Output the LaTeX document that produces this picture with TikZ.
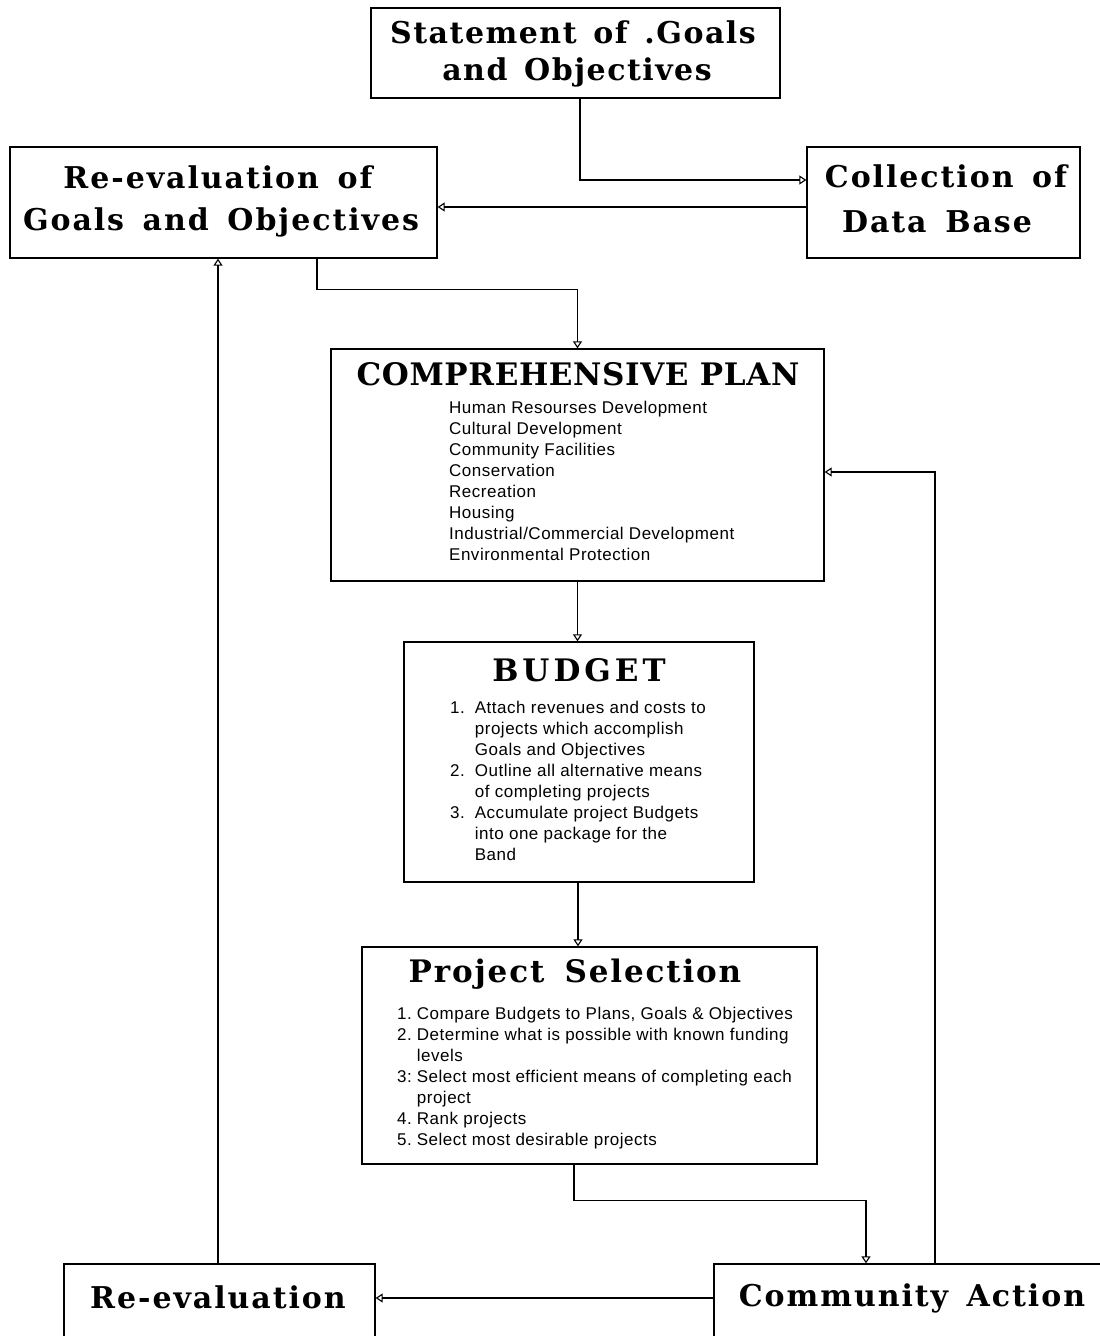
\documentclass[tikz,border=0pt]{standalone}
\usepackage{fontspec}
\setmainfont{DejaVu Serif}
\newfontfamily\listfont[LetterSpace=3]{Liberation Sans}
\newfontfamily\ttlfont[LetterSpace=6.5,WordSpace=1.5]{DejaVu Serif}
\newfontfamily\stmtfont[LetterSpace=5,WordSpace=1.4]{DejaVu Serif}
\newfontfamily\planfont[LetterSpace=2]{DejaVu Serif}
\newfontfamily\budfont[LetterSpace=13]{DejaVu Serif}
\newfontfamily\projfont[LetterSpace=6,WordSpace=1.6]{DejaVu Serif}
\usetikzlibrary{arrows.meta,calc}
\begin{document}
\begin{tikzpicture}[x=1pt,y=-1pt,
  box/.style={draw,line width=1.3pt,inner sep=0pt},
  conn/.style={line width=1.1pt,-{Triangle[open,length=7pt,width=9pt]}},
  ttl/.style={font=\ttlfont\fontsize{30}{32}\selectfont\bfseries,inner sep=0pt},
  stmtttl/.style={font=\stmtfont\fontsize{30}{32}\selectfont\bfseries,inner sep=0pt},
  bigttl/.style={inner sep=0pt},
  lst/.style={font=\listfont\fontsize{17}{21}\selectfont,inner sep=0pt,anchor=north west,align=left},
]
\useasboundingbox (0,0) rectangle (1100,1336);
\fill[white] (0,0) rectangle (1100,1336);
% boxes
\node[box,minimum width=409pt,minimum height=90pt] (stmt) at (575.5,53) {};
\node[box,minimum width=427pt,minimum height=111pt] (regoal) at (223.5,202.5) {};
\node[box,minimum width=273pt,minimum height=111pt] (coll) at (943.5,202.5) {};
\node[box,minimum width=493pt,minimum height=232pt] (plan) at (577.5,465) {};
\node[box,minimum width=350pt,minimum height=240pt] (budget) at (579,762) {};
\node[box,minimum width=455pt,minimum height=217pt] (proj) at (589.5,1055.5) {};
\node[box,minimum width=311pt,minimum height=80pt] (reeval) at (219.5,1304) {};
\node[box,minimum width=392pt,minimum height=80pt] (comm) at (910,1304) {};
% titles
\node[stmtttl] (t1a) at (573,32) {Statement of .Goals};
\node[stmtttl] (t1b) at (577,72) {and Objectives};
\node[ttl] (t2a) at (218,177) {Re-evaluation of};
\node[ttl] (t2b) at (221,222) {Goals and Objectives};
\node[ttl] (t3a) at (946,176) {Collection of};
\node[ttl] (t3b) at (937,222) {Data Base};
\node[bigttl,font=\planfont\fontsize{31}{34}\selectfont\bfseries] (t4) at (578,374) {COMPREHENSIVE PLAN};
\node[bigttl,font=\budfont\fontsize{31}{34}\selectfont\bfseries] (t5) at (579,670) {BUDGET};
\node[bigttl,font=\projfont\fontsize{31}{34}\selectfont\bfseries] (t6) at (575,974) {Project Selection};
\node[ttl] (t7) at (218,1297) {Re-evaluation};
\node[ttl] (t8) at (912,1298) {Community Action};
% lists
\node[lst] (l4) at (449,401) {Human Resourses Development\\Cultural Development\\Community Facilities\\Conservation\\Recreation\\Housing\\Industrial/Commercial Development\\Environmental Protection};
\node[lst] (l5) at (450,699) {\begin{tabular}{@{}r@{\hspace{10pt}}l@{}}
1. & Attach revenues and costs to\\
   & projects which accomplish\\
   & Goals and Objectives\\
2. & Outline all alternative means\\
   & of completing projects\\
3. & Accumulate project Budgets\\
   & into one package for the\\
   & Band
\end{tabular}};
\node[lst] (l6) at (397,1005) {\begin{tabular}{@{}r@{\hspace{5pt}}l@{}}
1. & Compare Budgets to Plans, Goals \& Objectives\\
2. & Determine what is possible with known funding\\
   & levels\\
3: & Select most efficient means of completing each\\
   & project\\
4. & Rank projects\\
5. & Select most desirable projects
\end{tabular}};
% connectors
\draw[conn] ([xshift=4.5pt]stmt.south) |- ([yshift=22.5pt]coll.west);
\draw[conn] ([yshift=-4.5pt]coll.west) -- ([yshift=-4.5pt]regoal.east);
\draw[conn] ([xshift=93.5pt]regoal.south) -- ++(0,31) -| (plan.north);
\draw[conn] (plan.south) -- (plan.south |- budget.north);
\draw[conn] ([xshift=-1pt]budget.south) -- ([xshift=-1pt]budget.south |- proj.north);
\draw[conn] ([xshift=-15.5pt]proj.south) -- ++(0,36) -| ([xshift=-44pt]comm.north);
\draw[conn] ([xshift=25pt]comm.north) |- ([yshift=-7pt]plan.east);
\draw[conn] ([yshift=6pt]comm.west) -- ([yshift=6pt]reeval.east);
\draw[conn] ([xshift=-1.5pt]reeval.north) -- ([xshift=-1.5pt]reeval.north |- regoal.south);
\end{tikzpicture}
\end{document}
